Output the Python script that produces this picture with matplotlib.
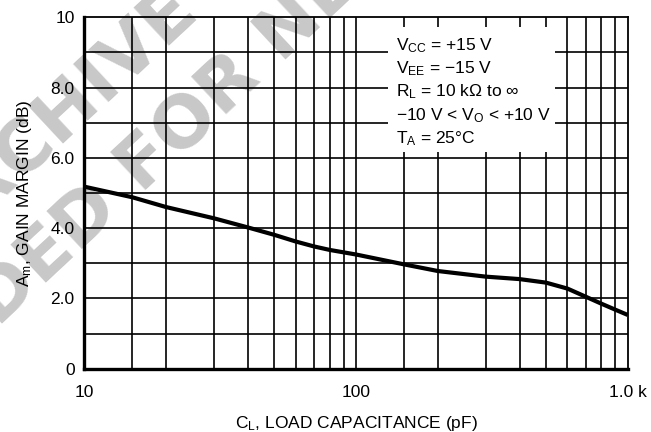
import matplotlib
matplotlib.use('Agg')
import matplotlib.pyplot as plt
from matplotlib.patches import Rectangle

# Gain margin vs load capacitance
cap_pf = [10, 15, 20, 30, 40, 50, 60, 70, 80, 100, 150, 200, 300, 400, 500, 600, 700, 800, 900, 1000]
gain_margin_db = [5.18, 4.88, 4.60, 4.28, 4.02, 3.81, 3.62, 3.48, 3.38, 3.25, 2.97, 2.78, 2.62, 2.55,
                  2.45, 2.28, 2.05, 1.85, 1.68, 1.53]

x_ticks = [10, 100, 1000]
x_tick_labels = ['10', '100', '1.0 k']
y_ticks = [0, 2, 4, 6, 8, 10]
y_tick_labels = ['0', '2.0', '4.0', '6.0', '8.0', '10']
x_grid = [15, 20, 30, 40, 50, 60, 70, 80, 90, 100, 150, 200, 300, 400, 500, 600, 700, 800, 900]
y_grid = [1, 2, 3, 4, 5, 6, 7, 8, 9]

conditions = ['$\\mathregular{V_{CC}}$ = +15 V',
              '$\\mathregular{V_{EE}}$ = \u221215 V',
              '$\\mathregular{R_{L}}$ = 10 k\u03a9 to \u221e',
              '\u221210 V < $\\mathregular{V_{O}}$ < +10 V',
              '$\\mathregular{T_{A}}$ = 25\u00b0C']
cond_baselines_px = [50, 73, 96.5, 120, 143]

plt.rcParams['font.family'] = ['Liberation Sans', 'DejaVu Sans']
plt.rcParams['mathtext.fontset'] = 'custom'
plt.rcParams['mathtext.rm'] = 'Liberation Sans'
plt.rcParams['mathtext.it'] = 'Liberation Sans'

W, H = 651, 432
fs = 12.5
fig = plt.figure(figsize=(W / 100, H / 100), dpi=100)

# watermark behind the chart
wm = dict(fontsize=52, color='#c8c8c8', weight='bold', family='DejaVu Sans',
          rotation=43, rotation_mode='anchor', va='baseline', zorder=-1)
fig.text(104 / W, 1 - 106 / H, 'IVE INFORMATION', ha='left', **wm)
fig.text(104 / W, 1 - 106 / H, 'ARCH', ha='right', **wm)
fig.text(141 / W, 1 - 194 / H, 'FOR NEW DESIGNS', ha='left', **wm)
fig.text(122 / W, 1 - 212 / H, 'NOT RECOMMENDED', ha='right', **wm)

ax = fig.add_axes([84.3 / W, 1 - 368.7 / H, 543.4 / W, 351.4 / H])
ax.patch.set_alpha(0)
ax.set_xscale('log')
ax.set_xlim(10, 1000)
ax.set_ylim(0, 10)

for xv in x_grid:
    ax.axvline(xv, color='black', lw=1.2, zorder=1)
for yv in y_grid:
    ax.axhline(yv, color='black', lw=1.2, zorder=1)

ax.add_patch(Rectangle((0.559, 0.617), 0.307, 0.355, transform=ax.transAxes,
                       facecolor='white', edgecolor='none', zorder=2))
for line, ypx in zip(conditions, cond_baselines_px):
    ax.text(0.573, (368.7 - ypx) / 351.4, line, transform=ax.transAxes, fontsize=fs,
            va='baseline', ha='left', zorder=3)

ax.plot(cap_pf, gain_margin_db, color='black', lw=3.0, solid_capstyle='butt', zorder=4)

ax.set_xticks(x_ticks)
ax.set_xticklabels(x_tick_labels)
ax.set_xticks([], minor=True)
ax.set_yticks(y_ticks)
ax.set_yticklabels(y_tick_labels)
ax.tick_params(length=0, labelsize=fs)
ax.tick_params(axis='x', pad=12)
ax.tick_params(axis='y', pad=7)

for side in ['left', 'bottom']:
    ax.spines[side].set_linewidth(2.4)
for side in ['top', 'right']:
    ax.spines[side].set_linewidth(1.3)

ax.set_xlabel('$\\mathregular{C_{L}}$, LOAD CAPACITANCE (pF)', fontsize=fs)
ax.xaxis.set_label_coords(0.5, -0.128)
ax.set_ylabel('$\\mathregular{A_{m}}$, GAIN MARGIN (dB)', fontsize=fs)
ax.yaxis.set_label_coords(-0.093, 0.5)

fig.savefig('out.png', dpi=100)
